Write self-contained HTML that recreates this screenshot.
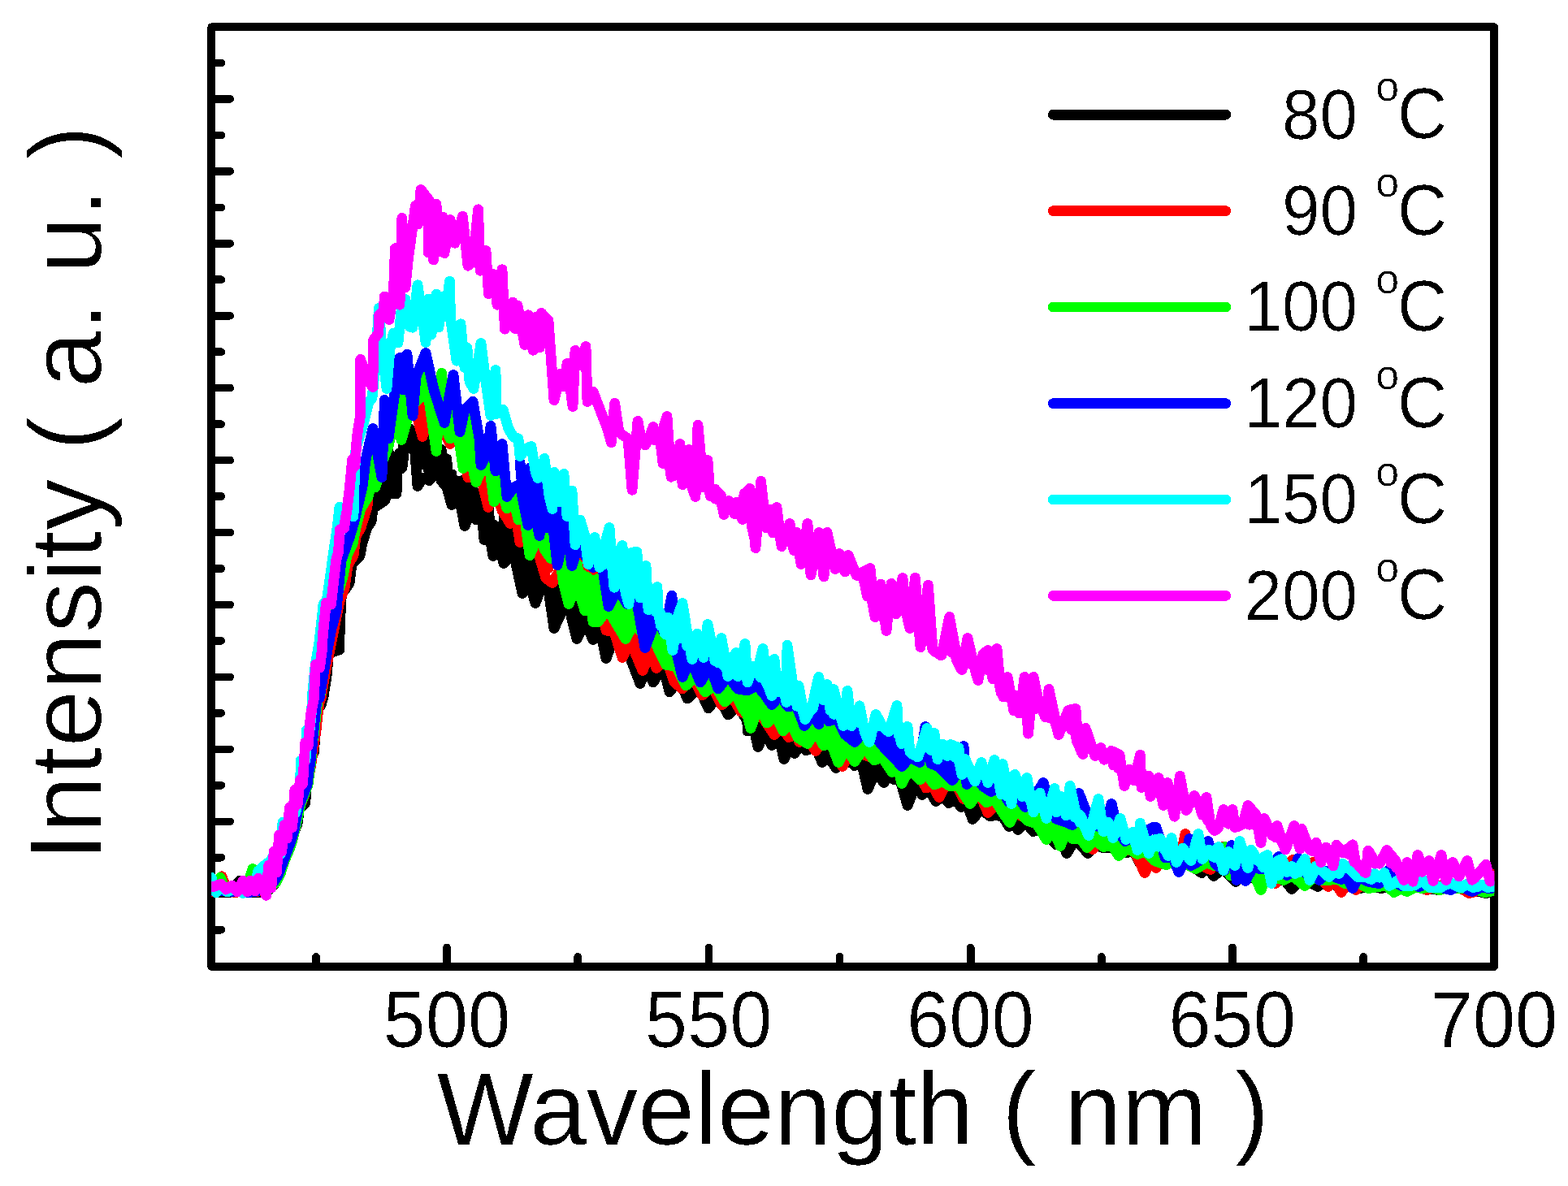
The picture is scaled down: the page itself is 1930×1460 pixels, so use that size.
<!DOCTYPE html>
<html lang="en"><head><meta charset="utf-8"><title>PL spectra</title>
<style>html,body{margin:0;padding:0;background:#fff;overflow:hidden}svg{display:block}</style>
</head><body>
<svg width="1930" height="1460" viewBox="0 0 1930 1460" shape-rendering="crispEdges">
<rect width="1930" height="1460" fill="#fff"/>
<g stroke="#000" stroke-width="9.6" stroke-linecap="round" fill="none">
<line x1="260.2" y1="77.4" x2="272.4" y2="77.4"/>
<line x1="260.2" y1="121.9" x2="283.2" y2="121.9"/>
<line x1="260.2" y1="166.3" x2="272.4" y2="166.3"/>
<line x1="260.2" y1="210.8" x2="283.2" y2="210.8"/>
<line x1="260.2" y1="255.3" x2="272.4" y2="255.3"/>
<line x1="260.2" y1="299.8" x2="283.2" y2="299.8"/>
<line x1="260.2" y1="344.2" x2="272.4" y2="344.2"/>
<line x1="260.2" y1="388.7" x2="283.2" y2="388.7"/>
<line x1="260.2" y1="433.2" x2="272.4" y2="433.2"/>
<line x1="260.2" y1="477.6" x2="283.2" y2="477.6"/>
<line x1="260.2" y1="522.1" x2="272.4" y2="522.1"/>
<line x1="260.2" y1="566.6" x2="283.2" y2="566.6"/>
<line x1="260.2" y1="611.0" x2="272.4" y2="611.0"/>
<line x1="260.2" y1="655.5" x2="283.2" y2="655.5"/>
<line x1="260.2" y1="700.0" x2="272.4" y2="700.0"/>
<line x1="260.2" y1="744.4" x2="283.2" y2="744.4"/>
<line x1="260.2" y1="788.9" x2="272.4" y2="788.9"/>
<line x1="260.2" y1="833.4" x2="283.2" y2="833.4"/>
<line x1="260.2" y1="877.9" x2="272.4" y2="877.9"/>
<line x1="260.2" y1="922.3" x2="283.2" y2="922.3"/>
<line x1="260.2" y1="966.8" x2="272.4" y2="966.8"/>
<line x1="260.2" y1="1011.3" x2="283.2" y2="1011.3"/>
<line x1="260.2" y1="1055.7" x2="272.4" y2="1055.7"/>
<line x1="260.2" y1="1100.2" x2="283.2" y2="1100.2"/>
<line x1="260.2" y1="1144.7" x2="272.4" y2="1144.7"/>
<line x1="389.0" y1="1190.0" x2="389.0" y2="1177.8"/>
<line x1="550.1" y1="1190.0" x2="550.1" y2="1166.4"/>
<line x1="711.2" y1="1190.0" x2="711.2" y2="1177.8"/>
<line x1="872.4" y1="1190.0" x2="872.4" y2="1166.4"/>
<line x1="1033.5" y1="1190.0" x2="1033.5" y2="1177.8"/>
<line x1="1194.7" y1="1190.0" x2="1194.7" y2="1166.4"/>
<line x1="1355.8" y1="1190.0" x2="1355.8" y2="1177.8"/>
<line x1="1516.9" y1="1190.0" x2="1516.9" y2="1166.4"/>
<line x1="1678.1" y1="1190.0" x2="1678.1" y2="1177.8"/>
</g>
<rect x="260.2" y="33.2" width="1579.0" height="1156.8" fill="none" stroke="#000" stroke-width="9.6" stroke-linejoin="round"/>
<clipPath id="plot"><rect x="260.2" y="33.2" width="1579.0" height="1156.8"/></clipPath>
<g clip-path="url(#plot)" fill="none" stroke-width="12.8" stroke-linejoin="round" stroke-linecap="round">
<polyline stroke="#000000" points="440.0,659.1 443.2,674.3 446.4,644.4 449.7,650.3 452.9,625.7 456.1,637.0 459.3,595.8 462.6,616.2 465.8,591.0 469.0,615.4 472.2,565.5 475.4,595.7 478.7,557.7 481.9,603.9 485.1,561.9 488.3,578.7 491.6,557.6 494.8,575.7 498.0,527.4 501.2,540.1 504.4,527.5 507.7,533.3 510.9,538.2 514.1,574.2 517.3,538.3 520.6,571.9 523.8,533.7 527.0,577.5 530.2,537.5 533.5,580.1 536.7,538.0 539.9,572.0 543.1,553.4 546.3,590.3 549.6,564.8 552.8,595.0 556.0,583.8 559.2,615.2 562.5,592.0 565.7,611.2 568.9,591.6 572.1,628.5 575.3,591.9 578.6,615.3 581.8,599.4 585.0,624.7 588.2,611.6 591.5,617.4 594.7,622.6 597.9,657.0 601.1,625.5 604.3,655.3 607.6,645.8 610.8,666.9 614.0,648.2 617.2,670.6 620.5,636.6 623.7,681.3 626.9,654.3 630.1,674.5 633.4,672.3 636.6,693.5 639.8,690.1 643.0,725.2 646.2,676.6 649.5,705.1 652.7,688.1 655.9,715.3 659.1,704.9 662.4,718.0 665.6,694.7 668.8,709.9 672.0,714.3 675.2,727.0 678.5,719.0 681.7,764.0 684.9,722.7 688.1,751.3 691.4,723.2 694.6,738.1 697.8,732.7 701.0,751.8 704.2,738.1 707.5,774.3 710.7,738.0 713.9,767.5 717.1,746.1 720.4,762.2 723.6,736.8 726.8,780.5 730.0,740.6 733.2,769.5 736.5,763.5 739.7,774.6 742.9,764.8 746.1,791.9 749.4,761.6 752.6,788.1 755.8,761.4 759.0,776.4 762.2,754.1 765.5,783.2 768.7,777.0 771.9,794.7 775.1,789.3 778.4,815.3 781.6,795.7 784.8,820.0 788.0,811.6 791.3,830.0 794.5,796.3 797.7,814.0 800.9,804.4 804.1,838.6 807.4,795.5 810.6,828.3 813.8,808.8 817.0,820.8 820.3,808.5 823.5,833.3 826.7,805.3 829.9,843.5 833.1,808.9 836.4,834.1 839.6,816.7 842.8,849.7 846.0,825.4 849.3,844.8 852.5,816.8 855.7,846.2 858.9,818.8 862.1,842.9 865.4,833.2 868.6,862.4 871.8,838.1 875.0,856.3 878.3,840.6 881.5,849.0 884.7,831.5 887.9,855.5 891.2,841.4 894.4,861.0 897.6,837.7 900.8,864.9 904.0,842.9 907.3,858.2 910.5,848.2 913.7,876.4 916.9,864.0 920.2,894.3 923.4,881.2 926.6,888.5 929.8,880.3 933.0,904.1 936.3,879.4 939.5,904.5 942.7,884.6 945.9,908.1 949.2,875.9 952.4,908.5 955.6,897.0 958.8,906.3 962.0,899.4 965.3,934.0 968.5,896.1 971.7,915.9 974.9,902.9 978.2,925.8 981.4,898.2 984.6,914.4 987.8,897.1 991.0,921.1 994.3,889.0 997.5,917.5 1000.7,904.3 1003.9,919.0 1007.2,904.3 1010.4,931.9 1013.6,912.4 1016.8,929.2 1020.1,914.3 1023.3,929.8 1026.5,915.7 1029.7,938.9 1032.9,908.2 1036.2,932.4 1039.4,917.0 1042.6,932.9 1045.8,914.3 1049.1,931.5 1052.3,915.9 1055.5,936.4 1058.7,936.1 1061.9,944.2 1065.2,937.7 1068.4,967.3 1071.6,936.2 1074.8,953.4 1078.1,937.7 1081.3,946.1 1084.5,936.4 1087.7,956.1 1090.9,935.6 1094.2,951.4 1097.4,930.5 1100.6,948.2 1103.8,945.3 1107.1,959.4 1110.3,957.8 1113.5,972.2 1116.7,970.2 1119.9,980.8 1123.2,962.2 1126.4,967.6 1129.6,951.9 1132.8,970.1 1136.1,946.4 1139.3,967.4 1142.5,958.9 1145.7,975.4 1149.0,963.7 1152.2,978.5 1155.4,960.8 1158.6,974.2 1161.8,957.6 1165.1,979.6 1168.3,967.0 1171.5,984.9 1174.7,968.0 1178.0,986.2 1181.2,964.3 1184.4,984.0 1187.6,979.9 1190.8,987.0 1194.1,980.7 1197.3,1001.3 1200.5,984.9 1203.7,996.3 1207.0,980.2 1210.2,996.4 1213.4,984.6 1216.6,997.0 1219.8,975.1 1223.1,992.8 1226.3,986.0 1229.5,995.9 1232.7,993.4 1236.0,1004.4 1239.2,991.9 1242.4,1015.0 1245.6,991.9 1248.8,1006.0 1252.1,996.8 1255.3,1008.6 1258.5,1000.3 1261.7,1006.8 1265.0,996.4 1268.2,1010.0 1271.4,1002.2 1274.6,1016.6 1277.8,1003.5 1281.1,1017.7 1284.3,1010.7 1287.5,1025.3 1290.7,1018.4 1294.0,1026.8 1297.2,1018.8 1300.4,1032.3 1303.6,1026.3 1306.9,1034.1 1310.1,1031.8 1313.3,1042.4 1316.5,1028.3 1319.7,1036.0 1323.0,1028.5 1326.2,1035.0 1329.4,1029.7 1332.6,1041.5 1335.9,1030.2 1339.1,1048.6 1342.3,1034.0 1345.5,1036.9 1348.7,1031.5 1352.0,1039.4 1355.2,1020.7 1358.4,1038.6 1361.6,1025.6 1364.9,1042.8 1368.1,1023.0 1371.3,1037.9 1374.5,1031.3 1377.7,1040.4 1381.0,1034.8 1384.2,1044.5 1387.4,1035.8 1390.6,1043.9 1393.9,1042.2 1397.1,1049.5 1400.3,1043.7 1403.5,1058.0 1406.8,1040.2 1410.0,1053.4 1413.2,1043.8 1416.4,1054.8 1419.6,1042.1 1422.9,1057.5 1426.1,1040.7 1429.3,1058.5 1432.5,1052.6 1435.8,1056.5 1439.0,1050.7 1442.2,1059.8 1445.4,1059.1 1448.6,1065.1 1451.9,1057.6 1455.1,1059.6 1458.3,1053.7 1461.5,1060.6 1464.8,1059.3 1468.0,1064.1 1471.2,1056.3 1474.4,1069.8 1477.6,1055.6 1480.9,1066.9 1484.1,1061.3 1487.3,1068.6 1490.5,1064.6 1493.8,1076.0 1497.0,1066.4 1500.2,1070.7 1503.4,1064.1 1506.6,1068.4 1509.9,1067.1 1513.1,1075.4 1516.3,1069.3 1519.5,1082.3 1522.8,1071.8 1526.0,1078.7 1529.2,1071.6 1532.4,1074.5 1535.7,1067.9 1538.9,1075.7 1542.1,1070.0 1545.3,1080.9 1548.5,1065.5 1551.8,1078.5 1555.0,1071.0 1558.2,1077.5 1561.4,1072.1 1564.7,1079.2 1567.9,1073.1 1571.1,1081.9 1574.3,1073.3 1577.5,1079.8 1580.8,1081.3 1584.0,1085.8 1587.2,1082.0 1590.4,1093.0 1593.7,1082.2 1596.9,1085.7 1600.1,1080.5 1603.3,1080.9 1606.5,1076.4 1609.8,1083.0 1613.0,1080.5 1616.2,1088.0 1619.4,1077.8 1622.7,1087.9 1625.9,1076.6 1629.1,1083.9 1632.3,1079.7 1635.5,1085.4 1638.8,1079.4 1642.0,1085.4 1645.2,1075.4 1648.4,1086.3 1651.7,1079.0 1654.9,1082.0 1658.1,1078.9 1661.3,1083.8 1664.5,1079.4 1667.8,1087.0 1671.0,1082.4 1674.2,1089.4 1677.4,1081.0 1680.7,1089.6 1683.9,1081.9 1687.1,1089.7 1690.3,1081.5 1693.6,1089.6 1696.8,1080.6 1700.0,1089.0 1703.2,1084.4 1706.4,1089.4 1709.7,1080.9 1712.9,1088.6 1716.1,1087.2 1719.3,1089.2 1722.6,1088.2 1725.8,1091.3 1729.0,1090.0 1732.2,1090.9 1735.4,1088.3 1738.7,1090.4 1741.9,1089.4 1745.1,1089.6 1748.3,1088.1 1751.6,1091.9 1754.8,1090.6 1758.0,1092.4 1761.2,1089.7 1764.4,1094.6 1767.7,1091.3 1770.9,1095.6 1774.1,1092.3 1777.3,1092.7 1780.6,1089.5 1783.8,1091.5 1787.0,1088.9 1790.2,1091.8 1793.5,1092.0 1796.7,1093.0 1799.9,1092.3 1803.1,1093.2 1806.3,1090.4 1809.6,1094.9 1812.8,1091.3 1816.0,1094.9 1819.2,1092.8 1822.5,1097.7 1825.7,1093.5 1828.9,1096.5 1832.1,1092.5 1835.3,1096.9 1838.6,1089.1"/>
<polyline stroke="#000000" points="260.0,1098.0 268.0,1097.0 276.0,1099.0 284.0,1098.0 295.0,1084.0 300.0,1098.0 310.0,1099.0 318.0,1098.6 330.0,1097.0 338.0,1088.0 343.0,1050.0 346.0,1028.0 352.0,1048.0 358.0,1040.0 362.0,1024.0 366.0,1014.6 368.4,996.5 375.8,988.3 377.5,965.3 380.8,939.0 386.5,925.8 389.8,876.4 395.0,868.0 398.0,858.0 402.4,830.0 404.4,804.0 417.6,800.0 418.6,764.0 420.4,732.0 430.0,718.0 433.0,694.0 443.0,684.0 445.6,670.0 451.6,650.0 457.0,642.0 459.0,626.0 474.0,616.0 476.0,608.0 488.0,608.0 489.2,580.0 495.0,576.0 498.0,550.0 509.0,533.4 514.0,598.6 521.0,588.0 528.0,591.6 533.0,586.0 537.0,566.0 543.0,591.6 550.0,600.0 556.0,621.6 564.0,606.0 572.0,647.6 580.0,630.0 586.0,640.0 592.0,621.4 596.0,664.6 601.0,650.0 607.0,684.6 614.0,668.0 620.0,693.6 632.0,680.0 643.0,730.6 650.0,712.0 659.0,742.6 670.0,712.0 674.0,720.0 682.0,773.6 694.0,748.0 702.0,754.0 710.0,786.6 720.0,766.0 730.0,787.6 738.0,772.0 746.0,810.6 758.0,780.0 772.0,800.0 788.0,841.6 796.0,820.0 804.0,840.0 816.0,820.0 824.0,852.0 836.0,836.0 846.0,860.0 860.0,846.0 872.0,872.0 884.0,856.0 896.0,880.0 908.0,868.0 920.0,888.0 920.0,900.0 926.0,888.0 933.0,919.6 942.0,900.0 950.0,917.6 958.0,904.0 965.0,934.6 972.0,920.0 978.0,927.6 986.0,916.0 992.0,923.6 1004.0,920.0 1012.0,938.6 1020.0,932.0 1029.0,945.6 1040.0,932.0 1052.0,942.6 1060.0,936.0 1068.0,971.6 1078.0,950.0 1088.0,963.6 1094.0,952.0 1100.0,959.6 1108.0,960.0 1117.0,991.6 1128.0,964.0 1135.0,978.6 1142.0,970.0 1152.0,986.6 1160.0,980.0 1168.0,988.6 1176.0,984.0 1183.0,993.6 1190.0,988.0 1197.0,1008.6 1208.0,996.0 1218.0,1004.6 1228.0,1003.6 1235.0,1006.0 1242.0,1017.6 1248.0,1012.0 1253.0,1021.6 1262.0,1012.0 1272.0,1023.6 1282.0,1020.0 1292.0,1030.0 1300.0,1040.0 1306.0,1034.0 1313.0,1050.6 1322.0,1036.0 1330.0,1040.0 1339.0,1050.6 1348.0,1040.0 1358.0,1044.0 1366.0,1043.6 1376.0,1040.0 1386.0,1049.6 1396.0,1048.0 1402.4,1061.6 1412.0,1052.0 1424.0,1060.0 1436.0,1058.0 1448.0,1066.0 1460.0,1062.0 1470.0,1068.0 1479.0,1074.6 1486.0,1068.0 1494.0,1078.6 1504.0,1070.0 1512.0,1076.0 1521.0,1085.6 1532.0,1076.0 1544.0,1082.0 1556.0,1078.0 1568.0,1086.0 1580.0,1082.0 1590.0,1094.6 1600.0,1084.0 1612.0,1086.0 1622.0,1091.6 1632.0,1084.0 1644.0,1090.0 1656.0,1086.0 1666.0,1090.0 1675.0,1093.6 1684.0,1090.0 1700.0,1093.6 1714.0,1090.0 1728.0,1092.0 1744.0,1090.0 1758.0,1094.0 1771.0,1095.6 1784.0,1092.0 1800.0,1094.0 1814.0,1096.0 1829.0,1099.6 1840.0,1096.0"/>
<polyline stroke="#ff0000" points="440.0,647.0 443.2,643.0 446.4,613.6 449.7,631.6 452.9,587.9 456.1,587.7 459.3,569.7 462.6,575.8 465.8,569.9 469.0,562.2 472.2,554.9 475.4,548.3 478.7,536.3 481.9,536.2 485.1,520.4 488.3,522.4 491.6,487.1 494.8,499.3 498.0,491.1 501.2,505.7 504.4,505.5 507.7,502.6 510.9,499.9 514.1,510.5 517.3,488.5 520.6,529.6 523.8,488.1 527.0,509.1 530.2,488.3 533.5,510.3 536.7,501.7 539.9,521.3 543.1,519.8 546.3,530.9 549.6,524.8 552.8,539.5 556.0,495.3 559.2,527.6 562.5,521.0 565.7,531.8 568.9,526.8 572.1,555.5 575.3,516.1 578.6,580.3 581.8,530.5 585.0,565.1 588.2,572.7 591.5,586.6 594.7,580.7 597.9,599.7 601.1,570.4 604.3,604.6 607.6,578.2 610.8,602.7 614.0,587.2 617.2,615.9 620.5,616.0 623.7,632.0 626.9,610.5 630.1,639.4 633.4,606.9 636.6,636.0 639.8,622.8 643.0,660.7 646.2,624.1 649.5,641.9 652.7,622.0 655.9,649.2 659.1,649.5 662.4,670.1 665.6,662.0 668.8,689.6 672.0,663.9 675.2,699.5 678.5,661.5 681.7,692.5 684.9,668.4 688.1,699.5 691.4,666.2 694.6,689.2 697.8,668.4 701.0,687.4 704.2,674.5 707.5,699.8 710.7,679.4 713.9,701.6 717.1,685.8 720.4,710.4 723.6,694.7 726.8,714.0 730.0,705.0 733.2,731.2 736.5,722.9 739.7,747.6 742.9,732.9 746.1,762.3 749.4,745.5 752.6,774.8 755.8,759.3 759.0,786.8 762.2,755.1 765.5,797.5 768.7,768.5 771.9,787.2 775.1,759.4 778.4,791.9 781.6,778.8 784.8,800.2 788.0,775.4 791.3,824.3 794.5,779.7 797.7,796.6 800.9,775.3 804.1,800.4 807.4,787.6 810.6,803.7 813.8,781.1 817.0,800.2 820.3,792.2 823.5,811.6 826.7,800.1 829.9,835.5 833.1,814.7 836.4,842.0 839.6,799.5 842.8,833.0 846.0,813.7 849.3,824.5 852.5,810.1 855.7,833.2 858.9,812.8 862.1,847.8 865.4,820.2 868.6,841.7 871.8,810.1 875.0,834.9 878.3,822.4 881.5,841.8 884.7,831.2 887.9,852.0 891.2,840.2 894.4,857.1 897.6,829.9 900.8,851.4 904.0,839.0 907.3,854.3 910.5,841.5 913.7,860.2 916.9,849.3 920.2,863.4 923.4,845.7 926.6,874.5 929.8,849.7 933.0,865.9 936.3,855.1 939.5,874.0 942.7,863.1 945.9,892.1 949.2,872.5 952.4,886.4 955.6,866.8 958.8,893.5 962.0,866.6 965.3,897.4 968.5,878.5 971.7,899.6 974.9,876.0 978.2,902.7 981.4,878.3 984.6,899.9 987.8,886.2 991.0,901.2 994.3,891.0 997.5,907.6 1000.7,892.8 1003.9,921.5 1007.2,897.1 1010.4,903.8 1013.6,886.4 1016.8,905.6 1020.1,884.7 1023.3,901.5 1026.5,901.5 1029.7,914.0 1032.9,903.1 1036.2,926.3 1039.4,908.0 1042.6,924.3 1045.8,908.7 1049.1,924.0 1052.3,894.0 1055.5,919.8 1058.7,904.5 1061.9,924.6 1065.2,908.0 1068.4,928.2 1071.6,905.9 1074.8,930.4 1078.1,904.9 1081.3,928.2 1084.5,909.4 1087.7,921.7 1090.9,899.7 1094.2,925.0 1097.4,906.7 1100.6,935.7 1103.8,917.7 1107.1,932.9 1110.3,919.3 1113.5,943.4 1116.7,928.3 1119.9,949.1 1123.2,936.4 1126.4,946.2 1129.6,938.1 1132.8,955.0 1136.1,940.9 1139.3,959.0 1142.5,941.7 1145.7,961.2 1149.0,945.3 1152.2,974.2 1155.4,949.8 1158.6,964.6 1161.8,949.5 1165.1,957.7 1168.3,943.7 1171.5,957.3 1174.7,945.6 1178.0,963.9 1181.2,952.6 1184.4,972.1 1187.6,960.3 1190.8,972.0 1194.1,961.2 1197.3,977.1 1200.5,966.4 1203.7,973.5 1207.0,968.3 1210.2,987.1 1213.4,973.3 1216.6,989.8 1219.8,968.7 1223.1,985.2 1226.3,971.2 1229.5,986.5 1232.7,972.4 1236.0,1001.6 1239.2,988.7 1242.4,996.8 1245.6,986.7 1248.8,999.1 1252.1,980.4 1255.3,993.6 1258.5,983.2 1261.7,1000.4 1265.0,992.4 1268.2,1007.7 1271.4,991.7 1274.6,1006.0 1277.8,985.0 1281.1,1006.5 1284.3,998.0 1287.5,1012.6 1290.7,998.6 1294.0,1014.8 1297.2,995.2 1300.4,1014.2 1303.6,996.5 1306.9,1016.3 1310.1,1008.3 1313.3,1017.5 1316.5,1008.2 1319.7,1027.6 1323.0,1010.9 1326.2,1020.6 1329.4,1017.6 1332.6,1028.6 1335.9,1021.8 1339.1,1033.1 1342.3,1026.0 1345.5,1044.2 1348.7,1021.9 1352.0,1032.3 1355.2,1021.8 1358.4,1028.5 1361.6,1021.7 1364.9,1038.2 1368.1,1018.6 1371.3,1036.6 1374.5,1027.3 1377.7,1036.6 1381.0,1032.3 1384.2,1039.6 1387.4,1034.1 1390.6,1044.6 1393.9,1041.1 1397.1,1049.7 1400.3,1054.2 1403.5,1061.3 1406.8,1055.3 1410.0,1070.9 1413.2,1053.8 1416.4,1060.4 1419.6,1053.8 1422.9,1061.9 1426.1,1050.1 1429.3,1055.3 1432.5,1051.5 1435.8,1055.3 1439.0,1052.3 1442.2,1057.2 1445.4,1058.0 1448.6,1055.9 1451.9,1053.0 1455.1,1046.3 1458.3,1029.0 1461.5,1038.2 1464.8,1053.2 1468.0,1060.5 1471.2,1055.0 1474.4,1056.8 1477.6,1056.2 1480.9,1065.5 1484.1,1051.0 1487.3,1068.9 1490.5,1055.5 1493.8,1059.8 1497.0,1051.5 1500.2,1051.5 1503.4,1044.7 1506.6,1047.6 1509.9,1057.9 1513.1,1064.7 1516.3,1063.4 1519.5,1066.6 1522.8,1063.0 1526.0,1065.0 1529.2,1059.9 1532.4,1064.0 1535.7,1066.1 1538.9,1069.4 1542.1,1056.1 1545.3,1068.4 1548.5,1058.7 1551.8,1070.5 1555.0,1063.4 1558.2,1072.6 1561.4,1071.7 1564.7,1077.9 1567.9,1071.9 1571.1,1084.1 1574.3,1069.5 1577.5,1075.3 1580.8,1070.2 1584.0,1066.7 1587.2,1062.2 1590.4,1058.9 1593.7,1062.7 1596.9,1069.8 1600.1,1070.5 1603.3,1073.1 1606.5,1072.7 1609.8,1072.0 1613.0,1065.9 1616.2,1061.6 1619.4,1068.8 1622.7,1076.7 1625.9,1076.9 1629.1,1083.0 1632.3,1077.9 1635.5,1088.6 1638.8,1081.4 1642.0,1083.8 1645.2,1085.2 1648.4,1092.9 1651.7,1088.3 1654.9,1089.9 1658.1,1083.7 1661.3,1086.7 1664.5,1079.6 1667.8,1093.2 1671.0,1081.5 1674.2,1090.3 1677.4,1081.8 1680.7,1084.0 1683.9,1081.6 1687.1,1085.6 1690.3,1081.8 1693.6,1088.8 1696.8,1081.9 1700.0,1087.6 1703.2,1082.9 1706.4,1087.2 1709.7,1080.4 1712.9,1087.6 1716.1,1086.5 1719.3,1089.8 1722.6,1088.2 1725.8,1090.9 1729.0,1089.7 1732.2,1090.0 1735.4,1088.2 1738.7,1089.8 1741.9,1089.6 1745.1,1091.3 1748.3,1086.8 1751.6,1093.6 1754.8,1091.0 1758.0,1093.8 1761.2,1090.6 1764.4,1091.4 1767.7,1089.2 1770.9,1090.4 1774.1,1090.7 1777.3,1092.2 1780.6,1090.5 1783.8,1091.6 1787.0,1089.2 1790.2,1091.9 1793.5,1091.5 1796.7,1092.1 1799.9,1092.0 1803.1,1094.6 1806.3,1091.9 1809.6,1096.8 1812.8,1093.8 1816.0,1096.3 1819.2,1092.1 1822.5,1095.4 1825.7,1090.8 1828.9,1093.5 1832.1,1091.1 1835.3,1086.2 1838.6,1078.3"/>
<polyline stroke="#ff0000" points="260.0,1097.0 266.0,1098.0 273.0,1078.8 280.0,1097.0 290.0,1098.6 298.0,1097.0 310.0,1098.0 320.0,1097.0 332.0,1094.0 340.0,1078.0 346.0,1068.0 352.0,1052.0 358.0,1040.0 362.0,1026.0 366.6,1002.0 370.0,990.0 375.0,978.0 380.0,957.0 383.0,940.0 386.0,920.0 389.0,900.0 391.0,880.0 393.6,862.0 395.0,860.0 400.0,830.0 406.0,800.0 412.0,770.0 418.0,740.0 424.0,724.0 428.0,696.0 435.0,684.0 438.0,660.0 444.0,650.0 452.0,624.0 454.0,600.0 462.0,580.0 470.0,560.0 480.0,540.0 490.0,520.0 502.0,510.0 510.0,500.0 520.0,537.6 530.0,510.0 542.0,524.0 554.0,546.6 562.0,520.0 570.0,550.0 576.0,588.0 584.0,570.0 594.0,596.0 601.0,624.6 608.0,600.0 618.0,628.4 628.0,644.6 634.0,630.0 640.0,667.6 650.0,650.0 658.0,666.0 666.0,692.0 672.0,712.0 680.0,717.6 690.0,700.0 698.0,712.0 710.0,700.0 716.0,720.0 724.0,712.0 734.0,736.0 738.0,744.0 746.0,776.0 756.0,778.0 766.0,809.6 776.0,790.0 791.0,825.6 800.0,804.0 808.0,822.6 820.0,810.0 830.0,840.0 840.0,848.0 852.0,832.0 864.0,856.0 876.0,844.0 888.0,868.0 900.0,856.0 912.0,876.0 920.0,880.0 930.0,872.0 942.0,888.0 953.0,904.6 962.0,896.0 971.0,907.6 980.0,904.0 984.0,913.6 994.0,908.0 1004.0,924.6 1014.0,908.0 1026.0,904.4 1032.0,930.0 1037.0,943.6 1048.0,924.0 1060.0,928.0 1071.0,931.6 1080.0,930.0 1092.0,938.0 1104.0,936.0 1116.0,950.0 1128.0,948.0 1140.0,970.0 1148.0,968.0 1156.0,981.6 1166.0,962.0 1178.0,968.0 1186.0,983.6 1196.0,978.0 1206.0,978.0 1216.0,1000.6 1226.0,990.0 1238.0,1004.0 1250.0,1000.0 1260.0,1006.0 1269.0,1011.6 1280.0,1008.0 1292.0,1020.0 1300.0,1024.0 1310.0,1020.0 1320.0,1032.0 1330.0,1028.0 1340.0,1040.0 1345.0,1045.6 1356.0,1031.4 1366.0,1040.0 1376.0,1036.0 1387.4,1045.6 1396.0,1048.0 1404.0,1064.0 1409.0,1074.6 1416.0,1060.0 1423.0,1068.6 1432.0,1056.0 1444.0,1060.0 1454.0,1052.0 1459.0,1026.4 1466.0,1060.0 1476.0,1064.0 1490.0,1070.6 1498.0,1056.0 1505.0,1042.4 1512.0,1066.0 1522.0,1068.0 1532.0,1064.0 1544.0,1074.0 1556.0,1070.0 1570.0,1087.6 1580.0,1072.0 1591.0,1058.4 1600.0,1076.0 1610.0,1072.0 1616.0,1061.4 1624.0,1080.0 1635.0,1091.6 1642.0,1084.0 1651.0,1098.6 1660.0,1086.0 1669.0,1095.6 1680.0,1086.0 1694.0,1090.0 1708.0,1088.0 1724.0,1092.0 1740.0,1090.0 1757.0,1095.6 1768.0,1090.0 1784.0,1094.0 1796.0,1092.0 1808.0,1099.6 1822.0,1096.0 1832.0,1094.0 1840.0,1076.0"/>
<polyline stroke="#00ff00" points="440.0,641.2 443.2,628.8 446.4,616.3 449.7,612.3 452.9,584.5 456.1,597.6 459.3,565.9 462.6,588.1 465.8,585.1 469.0,573.6 472.2,563.6 475.4,556.2 478.7,536.9 481.9,531.2 485.1,515.5 488.3,503.0 491.6,480.8 494.8,520.4 498.0,488.6 501.2,502.9 504.4,504.6 507.7,498.4 510.9,494.7 514.1,492.2 517.3,470.8 520.6,479.1 523.8,458.8 527.0,479.6 530.2,480.3 533.5,530.0 536.7,505.9 539.9,512.3 543.1,465.8 546.3,489.6 549.6,517.0 552.8,529.6 556.0,496.7 559.2,520.9 562.5,522.2 565.7,542.5 568.9,531.6 572.1,559.8 575.3,515.3 578.6,545.5 581.8,515.8 585.0,586.6 588.2,576.4 591.5,579.3 594.7,570.5 597.9,571.2 601.1,561.4 604.3,581.8 607.6,575.9 610.8,601.1 614.0,581.0 617.2,596.5 620.5,611.1 623.7,621.3 626.9,611.8 630.1,615.6 633.4,606.8 636.6,631.2 639.8,617.0 643.0,622.4 646.2,619.8 649.5,652.2 652.7,635.0 655.9,652.6 659.1,631.5 662.4,641.5 665.6,625.8 668.8,661.5 672.0,627.2 675.2,680.9 678.5,638.1 681.7,663.7 684.9,657.8 688.1,681.0 691.4,679.7 694.6,706.4 697.8,691.9 701.0,734.3 704.2,687.6 707.5,714.7 710.7,695.2 713.9,719.7 717.1,707.7 720.4,749.6 723.6,710.5 726.8,715.8 730.0,713.9 733.2,760.8 736.5,712.1 739.7,740.5 742.9,708.1 746.1,746.7 749.4,717.5 752.6,746.3 755.8,730.7 759.0,764.1 762.2,743.5 765.5,775.4 768.7,746.2 771.9,779.9 775.1,753.5 778.4,769.3 781.6,736.2 784.8,764.3 788.0,734.5 791.3,776.1 794.5,756.4 797.7,779.6 800.9,750.1 804.1,773.4 807.4,758.1 810.6,793.0 813.8,783.4 817.0,800.0 820.3,780.5 823.5,818.1 826.7,782.8 829.9,819.1 833.1,801.3 836.4,821.8 839.6,806.8 842.8,834.7 846.0,800.4 849.3,838.0 852.5,812.6 855.7,831.5 858.9,811.0 862.1,830.2 865.4,806.9 868.6,832.8 871.8,814.1 875.0,844.0 878.3,814.7 881.5,833.5 884.7,816.2 887.9,853.4 891.2,837.3 894.4,859.9 897.6,840.5 900.8,852.5 904.0,838.3 907.3,845.7 910.5,829.5 913.7,869.8 916.9,851.1 920.2,870.8 923.4,847.5 926.6,877.9 929.8,851.6 933.0,866.9 936.3,844.7 939.5,865.6 942.7,847.8 945.9,877.7 949.2,854.9 952.4,870.6 955.6,856.0 958.8,875.9 962.0,867.9 965.3,891.2 968.5,863.4 971.7,884.7 974.9,864.9 978.2,886.2 981.4,867.7 984.6,899.7 987.8,887.1 991.0,905.0 994.3,886.2 997.5,908.1 1000.7,873.5 1003.9,893.4 1007.2,875.5 1010.4,899.7 1013.6,884.3 1016.8,903.6 1020.1,886.4 1023.3,908.2 1026.5,905.5 1029.7,922.2 1032.9,894.8 1036.2,930.4 1039.4,900.3 1042.6,920.6 1045.8,897.7 1049.1,929.5 1052.3,893.9 1055.5,920.4 1058.7,903.6 1061.9,919.2 1065.2,908.3 1068.4,920.4 1071.6,914.2 1074.8,924.7 1078.1,905.2 1081.3,921.2 1084.5,902.9 1087.7,933.3 1090.9,912.1 1094.2,941.8 1097.4,912.1 1100.6,943.4 1103.8,929.4 1107.1,948.3 1110.3,927.2 1113.5,953.4 1116.7,935.3 1119.9,944.6 1123.2,932.6 1126.4,947.7 1129.6,931.4 1132.8,956.5 1136.1,926.0 1139.3,943.4 1142.5,925.3 1145.7,948.2 1149.0,931.2 1152.2,958.4 1155.4,931.7 1158.6,955.4 1161.8,939.5 1165.1,951.6 1168.3,930.7 1171.5,960.5 1174.7,946.5 1178.0,967.1 1181.2,952.2 1184.4,966.3 1187.6,961.5 1190.8,984.6 1194.1,968.2 1197.3,980.2 1200.5,962.4 1203.7,973.7 1207.0,960.7 1210.2,983.4 1213.4,966.0 1216.6,981.7 1219.8,965.0 1223.1,980.0 1226.3,971.0 1229.5,986.7 1232.7,980.7 1236.0,1001.9 1239.2,983.9 1242.4,1004.2 1245.6,986.2 1248.8,1000.8 1252.1,980.8 1255.3,998.2 1258.5,987.0 1261.7,1005.9 1265.0,991.7 1268.2,1004.7 1271.4,993.1 1274.6,1012.2 1277.8,1002.7 1281.1,1019.0 1284.3,1010.9 1287.5,1032.0 1290.7,1006.5 1294.0,1017.7 1297.2,1009.9 1300.4,1025.0 1303.6,1015.5 1306.9,1029.5 1310.1,1016.9 1313.3,1024.8 1316.5,1012.0 1319.7,1030.3 1323.0,1008.5 1326.2,1029.2 1329.4,1017.2 1332.6,1029.8 1335.9,1015.4 1339.1,1040.1 1342.3,1023.0 1345.5,1028.3 1348.7,1019.7 1352.0,1028.6 1355.2,1022.3 1358.4,1035.9 1361.6,1027.1 1364.9,1036.4 1368.1,1029.7 1371.3,1040.3 1374.5,1029.0 1377.7,1044.9 1381.0,1029.3 1384.2,1041.4 1387.4,1034.0 1390.6,1044.2 1393.9,1036.3 1397.1,1044.0 1400.3,1038.7 1403.5,1043.2 1406.8,1034.0 1410.0,1043.5 1413.2,1036.1 1416.4,1054.1 1419.6,1043.3 1422.9,1052.8 1426.1,1041.6 1429.3,1060.9 1432.5,1051.6 1435.8,1061.0 1439.0,1051.9 1442.2,1058.6 1445.4,1058.1 1448.6,1058.0 1451.9,1059.2 1455.1,1058.6 1458.3,1055.1 1461.5,1063.6 1464.8,1057.9 1468.0,1067.2 1471.2,1059.8 1474.4,1065.2 1477.6,1056.3 1480.9,1061.4 1484.1,1053.0 1487.3,1058.6 1490.5,1052.7 1493.8,1062.7 1497.0,1052.3 1500.2,1057.6 1503.4,1050.7 1506.6,1044.7 1509.9,1051.9 1513.1,1066.6 1516.3,1064.7 1519.5,1071.5 1522.8,1064.8 1526.0,1065.3 1529.2,1062.3 1532.4,1071.4 1535.7,1069.9 1538.9,1073.8 1542.1,1076.8 1545.3,1079.7 1548.5,1080.5 1551.8,1093.4 1555.0,1082.8 1558.2,1080.3 1561.4,1075.8 1564.7,1075.5 1567.9,1068.5 1571.1,1078.1 1574.3,1068.2 1577.5,1080.8 1580.8,1075.1 1584.0,1081.1 1587.2,1073.2 1590.4,1078.1 1593.7,1075.0 1596.9,1080.6 1600.1,1077.1 1603.3,1084.4 1606.5,1079.8 1609.8,1086.0 1613.0,1077.6 1616.2,1080.0 1619.4,1076.8 1622.7,1080.1 1625.9,1074.1 1629.1,1082.7 1632.3,1079.8 1635.5,1081.4 1638.8,1078.0 1642.0,1081.9 1645.2,1076.4 1648.4,1080.3 1651.7,1074.6 1654.9,1081.0 1658.1,1073.0 1661.3,1084.6 1664.5,1076.1 1667.8,1084.3 1671.0,1078.6 1674.2,1085.1 1677.4,1080.9 1680.7,1090.6 1683.9,1083.9 1687.1,1091.6 1690.3,1082.7 1693.6,1088.8 1696.8,1081.1 1700.0,1086.2 1703.2,1082.8 1706.4,1088.5 1709.7,1085.9 1712.9,1092.0 1716.1,1087.6 1719.3,1096.6 1722.6,1089.7 1725.8,1093.5 1729.0,1091.5 1732.2,1096.4 1735.4,1089.8 1738.7,1093.0 1741.9,1089.7 1745.1,1090.9 1748.3,1087.9 1751.6,1092.1 1754.8,1089.5 1758.0,1091.3 1761.2,1090.2 1764.4,1092.3 1767.7,1091.1 1770.9,1094.2 1774.1,1091.2 1777.3,1092.7 1780.6,1090.6 1783.8,1091.2 1787.0,1088.5 1790.2,1092.3 1793.5,1091.5 1796.7,1093.1 1799.9,1092.5 1803.1,1094.0 1806.3,1090.2 1809.6,1093.8 1812.8,1091.8 1816.0,1093.5 1819.2,1091.9 1822.5,1096.3 1825.7,1092.5 1828.9,1097.6 1832.1,1093.6 1835.3,1095.5 1838.6,1092.0"/>
<polyline stroke="#00ff00" points="260.0,1096.0 271.0,1080.0 278.0,1097.0 290.0,1098.0 302.0,1097.0 311.0,1069.4 318.0,1090.0 330.0,1095.0 340.0,1086.0 345.0,1076.0 350.0,1060.0 356.0,1046.0 360.0,1034.0 364.0,1018.0 367.0,1004.0 370.0,990.0 374.0,980.0 379.0,966.0 381.0,950.0 383.0,936.0 384.0,918.0 387.0,900.0 389.0,880.0 391.0,862.0 394.4,854.0 399.0,820.0 404.0,790.0 410.0,764.0 416.0,730.0 422.0,710.0 427.0,684.0 434.0,670.0 438.0,650.0 444.0,626.0 453.0,612.0 456.0,600.0 458.0,590.4 462.0,600.0 470.0,570.0 478.0,550.0 488.0,502.4 494.0,541.6 506.0,500.0 517.0,490.0 526.0,477.4 532.0,520.0 537.0,555.6 543.6,459.4 550.0,530.0 554.0,540.0 562.0,520.0 570.0,576.6 578.0,560.0 586.0,593.6 594.0,576.0 602.0,570.0 608.0,617.6 616.0,600.0 624.0,626.0 632.0,616.0 638.0,640.0 644.0,624.0 652.0,683.6 662.0,660.0 670.0,676.0 678.0,687.6 686.0,670.0 694.0,720.0 700.0,743.6 710.0,720.0 720.0,752.0 727.0,722.4 730.0,765.6 736.0,765.6 748.0,750.0 760.0,770.0 770.0,786.6 780.0,768.0 792.0,780.0 806.0,790.0 820.0,818.6 832.0,820.0 844.0,844.0 856.0,832.0 868.0,852.0 880.0,844.0 892.0,864.0 904.0,852.0 914.0,872.0 920.0,880.0 924.0,896.6 935.0,866.4 944.0,890.0 954.0,880.0 964.0,900.0 972.0,888.0 982.0,908.0 994.0,915.6 1004.0,900.0 1014.0,918.0 1022.0,912.0 1032.0,938.6 1042.0,920.0 1052.0,937.6 1064.0,920.0 1076.0,936.0 1086.0,932.0 1098.0,950.6 1104.0,940.0 1110.0,964.6 1120.0,946.0 1132.0,960.0 1140.0,952.0 1150.0,966.0 1160.0,962.0 1170.0,968.0 1180.0,968.0 1194.0,989.6 1204.0,976.0 1214.0,988.0 1224.0,984.0 1234.0,1000.0 1243.0,1012.6 1252.0,996.0 1264.0,1010.0 1276.0,1014.0 1288.0,1033.6 1296.0,1020.0 1300.0,1030.0 1305.0,1041.6 1312.0,1026.0 1320.0,1032.6 1330.0,1032.0 1338.0,1043.6 1348.0,1034.0 1358.0,1042.6 1368.0,1040.0 1377.0,1053.6 1388.0,1044.0 1400.0,1051.6 1410.0,1048.0 1422.0,1060.0 1436.0,1064.6 1448.0,1058.0 1460.0,1064.0 1472.0,1069.6 1485.0,1062.0 1496.0,1066.0 1508.0,1042.4 1514.4,1077.6 1524.0,1068.0 1536.0,1076.0 1544.0,1078.0 1552.0,1095.6 1560.0,1076.0 1570.0,1080.0 1580.0,1083.6 1590.0,1078.0 1598.0,1084.0 1606.0,1090.6 1616.0,1080.0 1626.0,1084.0 1635.0,1083.6 1646.0,1082.0 1655.0,1087.6 1666.0,1084.0 1674.0,1088.0 1684.0,1093.6 1697.0,1091.6 1706.0,1090.0 1716.0,1098.6 1724.0,1094.0 1732.0,1097.6 1742.0,1092.0 1750.0,1093.6 1760.0,1092.0 1772.0,1095.6 1784.0,1092.0 1800.0,1094.0 1814.0,1094.0 1828.0,1098.6 1840.0,1096.0"/>
<polyline stroke="#0000ff" points="640.0,569.1 643.2,603.8 646.4,587.7 649.7,619.4 652.9,575.6 656.1,607.9 659.3,588.1 662.6,626.5 665.8,590.4 669.0,617.7 672.2,622.3 675.4,644.9 678.7,623.6 681.9,650.6 685.1,634.1 688.3,666.8 691.6,619.5 694.8,656.2 698.0,639.7 701.2,660.0 704.5,668.1 707.7,677.1 710.9,668.3 714.1,668.4 717.3,672.8 720.6,684.8 723.8,688.5 727.0,693.0 730.2,687.0 733.5,694.9 736.7,690.6 739.9,687.8 743.1,694.2 746.3,709.9 749.6,707.5 752.8,737.2 756.0,723.9 759.2,720.9 762.5,711.2 765.7,732.3 768.9,737.8 772.1,742.7 775.3,738.4 778.6,734.5 781.8,717.7 785.0,744.5 788.2,736.0 791.5,772.2 794.7,762.7 797.9,782.2 801.1,750.3 804.3,767.8 807.6,755.1 810.8,762.3 814.0,771.1 817.2,776.6 820.5,766.3 823.7,750.5 826.9,733.2 830.1,774.9 833.4,796.5 836.6,806.9 839.8,777.2 843.0,811.5 846.2,803.7 849.5,811.0 852.7,809.4 855.9,819.3 859.1,804.0 862.4,826.6 865.6,813.8 868.8,820.1 872.0,794.8 875.2,821.4 878.5,818.2 881.7,836.9 884.9,813.8 888.1,837.7 891.4,828.9 894.6,831.8 897.8,830.9 901.0,837.2 904.2,833.6 907.5,840.1 910.7,835.2 913.9,847.2 917.1,837.3 920.4,849.6 923.6,835.9 926.8,840.8 930.0,829.0 933.2,844.3 936.5,829.4 939.7,850.2 942.9,849.1 946.1,859.6 949.4,855.4 952.6,861.5 955.8,849.8 959.0,857.0 962.2,855.7 965.5,862.9 968.7,861.6 971.9,868.7 975.1,843.9 978.4,862.8 981.6,860.7 984.8,880.1 988.0,882.8 991.3,891.6 994.5,883.6 997.7,882.0 1000.9,874.8 1004.1,884.6 1007.4,855.5 1010.6,874.8 1013.8,859.7 1017.0,877.2 1020.3,873.7 1023.5,882.6 1026.7,869.9 1029.9,883.9 1033.1,889.4 1036.4,894.5 1039.6,894.0 1042.8,902.3 1046.0,894.6 1049.3,905.5 1052.5,895.7 1055.7,908.5 1058.9,893.8 1062.1,902.1 1065.4,900.2 1068.6,902.5 1071.8,903.8 1075.0,906.1 1078.3,899.7 1081.5,910.1 1084.7,900.8 1087.9,915.0 1091.2,901.0 1094.4,922.9 1097.6,908.2 1100.8,918.3 1104.0,907.7 1107.3,933.4 1110.5,906.5 1113.7,925.9 1116.9,925.9 1120.2,930.1 1123.4,929.3 1126.6,934.2 1129.8,931.9 1133.0,931.7 1136.3,910.8 1139.5,897.2 1142.7,917.9 1145.9,937.0 1149.2,930.7 1152.4,941.3 1155.6,932.1 1158.8,944.3 1162.0,932.1 1165.3,949.8 1168.5,937.3 1171.7,945.8 1174.9,931.0 1178.2,947.1 1181.4,941.7 1184.6,925.4 1187.8,939.2 1191.0,963.7 1194.3,958.5 1197.5,958.1 1200.7,956.0 1203.9,960.7 1207.2,956.1 1210.4,967.5 1213.6,962.3 1216.8,968.8 1220.1,963.1 1223.3,966.1 1226.5,958.7 1229.7,967.2 1232.9,962.4 1236.2,975.3 1239.4,982.3 1242.6,986.9 1245.8,984.0 1249.1,982.0 1252.3,972.4 1255.5,983.1 1258.7,977.1 1261.9,989.3 1265.2,984.9 1268.4,987.3 1271.6,983.7 1274.8,978.8 1278.1,972.7 1281.3,968.0 1284.5,964.3 1287.7,975.6 1290.9,985.6 1294.2,994.5 1297.4,995.1 1300.6,1005.6 1303.8,996.7 1307.1,1007.1 1310.3,1004.9 1313.5,1010.1 1316.7,997.7 1319.9,1014.2 1323.2,999.2 1326.4,983.9 1329.6,979.9 1332.8,989.0 1336.1,996.7 1339.3,1003.2 1342.5,1007.4 1345.7,1012.4 1349.0,1010.4 1352.2,1014.6 1355.4,1017.7 1358.6,1019.3 1361.8,1012.2 1365.1,1000.5 1368.3,989.8 1371.5,1004.4 1374.7,1017.9 1378.0,1024.3 1381.2,1029.9 1384.4,1034.3 1387.6,1032.3 1390.8,1032.3 1394.1,1030.1 1397.3,1029.9 1400.5,1029.9 1403.7,1031.2 1407.0,1031.0 1410.2,1028.1 1413.4,1022.4 1416.6,1019.6 1419.8,1018.2 1423.1,1018.5 1426.3,1028.7 1429.5,1040.4 1432.7,1050.2 1436.0,1055.6 1439.2,1051.5 1442.4,1054.9 1445.6,1059.2 1448.8,1066.4 1452.1,1060.6 1455.3,1060.5 1458.5,1053.2 1461.7,1042.7 1465.0,1047.6 1468.2,1062.1 1471.4,1056.3 1474.6,1059.6 1477.8,1055.1 1481.1,1048.5 1484.3,1040.6 1487.5,1036.9 1490.7,1046.4 1494.0,1057.4 1497.2,1054.2 1500.4,1066.5 1503.6,1068.6 1506.9,1071.5 1510.1,1060.2 1513.3,1049.4 1516.5,1043.4 1519.7,1067.2 1523.0,1064.0 1526.2,1071.2 1529.4,1063.2 1532.6,1077.6 1535.9,1071.1 1539.1,1071.7 1542.3,1063.1 1545.5,1066.6 1548.7,1061.5 1552.0,1065.2 1555.2,1058.2 1558.4,1068.2 1561.6,1067.3 1564.9,1064.5 1568.1,1060.1 1571.3,1057.2 1574.5,1054.7 1577.7,1062.9 1581.0,1069.7 1584.2,1076.3 1587.4,1071.6 1590.6,1072.6 1593.9,1066.3 1597.1,1058.6 1600.3,1060.1 1603.5,1067.1 1606.8,1072.6 1610.0,1074.6 1613.2,1072.7 1616.4,1072.5 1619.6,1075.3 1622.9,1081.8 1626.1,1074.0 1629.3,1077.3 1632.5,1072.8 1635.8,1073.2 1639.0,1075.3 1642.2,1077.9 1645.4,1075.2 1648.6,1081.7 1651.9,1075.9 1655.1,1078.7 1658.3,1076.4 1661.5,1085.2 1664.8,1077.7 1668.0,1085.1 1671.2,1078.4 1674.4,1080.1 1677.6,1079.9 1680.9,1083.1 1684.1,1082.6 1687.3,1084.5 1690.5,1082.7 1693.8,1086.0 1697.0,1081.4 1700.2,1083.4 1703.4,1079.6 1706.6,1075.8 1709.9,1070.6 1713.1,1077.0 1716.3,1082.0 1719.5,1087.0 1722.8,1088.3 1726.0,1089.9 1729.2,1088.0 1732.4,1087.2 1735.7,1085.2 1738.9,1087.2 1742.1,1088.4 1745.3,1091.1 1748.5,1087.2 1751.8,1089.4 1755.0,1088.1 1758.2,1087.9 1761.4,1088.2 1764.7,1089.9 1767.9,1090.0 1771.1,1091.7 1774.3,1090.9 1777.5,1092.5 1780.8,1090.1 1784.0,1094.0 1787.2,1089.7 1790.4,1092.9 1793.7,1090.5 1796.9,1090.0 1800.1,1091.1 1803.3,1093.1 1806.5,1090.2 1809.8,1094.9 1813.0,1092.8 1816.2,1094.7 1819.4,1092.3 1822.7,1092.6 1825.9,1090.5 1829.1,1092.1 1832.3,1091.1 1835.5,1092.9 1838.8,1090.7"/>
<polyline stroke="#0000ff" points="260.0,1097.0 270.0,1096.0 282.0,1098.0 294.0,1098.0 306.0,1098.6 316.0,1097.0 320.0,1096.0 330.0,1092.0 338.0,1084.0 342.0,1078.0 348.0,1062.0 354.0,1046.0 358.0,1036.0 362.0,1022.0 365.0,1006.0 368.0,992.0 372.0,982.0 378.0,966.0 380.0,950.0 382.0,938.0 384.0,920.0 386.0,900.0 388.0,880.0 390.0,862.0 393.0,860.0 398.0,830.0 403.0,800.0 408.0,774.0 414.0,752.0 417.0,720.0 420.0,690.0 430.0,662.0 436.0,642.0 443.0,612.0 446.0,600.0 450.0,566.4 459.0,527.4 470.0,587.6 473.4,492.4 478.0,540.0 492.0,440.4 496.0,480.0 501.0,436.0 508.0,511.6 512.0,464.0 524.0,434.4 534.0,480.0 547.0,520.6 558.0,461.4 566.0,531.6 572.0,504.0 582.0,494.4 590.0,540.0 592.0,572.6 600.0,556.0 604.0,524.4 610.0,580.0 618.0,546.4 624.0,611.6 632.0,600.0 640.0,596.4 650.0,646.6 652.0,607.4 660.0,640.0 664.0,659.6 668.0,620.4 674.0,650.0 680.0,641.4 686.0,695.6 697.0,648.4 704.0,696.6 712.0,670.0 720.0,684.0 730.0,698.6 740.0,688.0 749.0,746.6 760.0,724.0 772.0,743.6 782.0,730.0 794.0,797.6 808.0,760.0 818.0,780.0 827.0,733.4 832.0,800.0 840.0,833.6 850.0,810.0 862.0,840.0 874.0,820.0 884.0,848.0 896.0,832.0 908.0,848.0 920.0,850.0 932.0,844.0 942.0,856.0 950.0,867.6 960.0,856.0 970.0,870.0 980.0,868.0 990.0,893.6 1000.0,880.0 1008.0,891.6 1011.0,875.4 1020.0,888.0 1030.0,884.0 1040.0,904.0 1052.0,913.6 1064.0,900.0 1078.0,908.0 1088.0,920.0 1100.0,932.0 1110.0,943.6 1120.0,932.0 1132.0,938.6 1139.0,894.4 1146.0,940.0 1156.0,944.0 1164.0,952.0 1172.0,960.6 1180.0,950.0 1186.0,918.4 1190.0,965.6 1200.0,956.0 1210.0,968.0 1220.0,974.6 1230.0,968.0 1242.0,987.6 1252.0,980.0 1262.0,993.6 1272.0,984.0 1284.0,963.4 1292.0,990.0 1300.0,1008.0 1312.0,1012.0 1320.0,1015.6 1328.0,976.4 1337.0,1000.0 1348.0,1016.0 1360.0,1020.0 1368.0,989.4 1376.0,1024.0 1385.0,1035.6 1396.0,1030.0 1408.0,1032.0 1415.0,1020.4 1423.0,1018.4 1434.0,1055.6 1444.0,1056.0 1451.0,1073.6 1458.0,1060.0 1464.0,1032.4 1466.0,1065.6 1476.0,1060.0 1487.0,1035.4 1496.0,1064.0 1507.0,1071.6 1516.0,1040.4 1522.0,1083.6 1528.0,1072.0 1533.0,1084.6 1542.0,1068.0 1552.0,1069.6 1562.0,1068.0 1574.0,1054.4 1584.0,1077.6 1592.0,1072.0 1598.0,1056.4 1608.0,1076.0 1616.0,1072.0 1624.0,1083.6 1634.0,1072.0 1644.0,1080.0 1651.0,1082.6 1658.0,1080.0 1665.0,1093.6 1672.0,1080.0 1685.0,1085.6 1698.0,1087.6 1710.0,1071.4 1718.0,1086.0 1725.0,1090.6 1736.0,1086.0 1746.0,1091.6 1758.0,1088.0 1772.0,1092.0 1786.0,1095.6 1796.0,1090.0 1812.0,1097.6 1824.0,1092.0 1834.0,1094.0 1840.0,1092.0"/>
<polyline stroke="#00ffff" points="720.0,660.5 723.2,688.6 726.4,684.8 729.7,683.2 732.9,668.8 736.1,687.8 739.3,692.9 742.6,695.5 745.8,678.7 749.0,692.6 752.2,682.7 755.4,717.4 758.7,710.0 761.9,714.3 765.1,681.9 768.3,721.4 771.6,735.6 774.8,731.9 778.0,689.7 781.2,719.3 784.5,701.7 787.7,735.7 790.9,721.4 794.1,732.7 797.3,739.0 800.6,745.2 803.8,738.5 807.0,752.9 810.2,752.7 813.5,770.6 816.7,769.1 819.9,781.2 823.1,768.9 826.3,790.4 829.6,790.4 832.8,782.6 836.0,763.9 839.2,785.8 842.5,763.0 845.7,795.4 848.9,795.3 852.1,811.6 855.3,795.3 858.6,795.5 861.8,795.2 865.0,806.8 868.2,791.7 871.5,801.0 874.7,789.5 877.9,803.9 881.1,809.8 884.3,815.9 887.6,799.3 890.8,819.3 894.0,821.0 897.2,827.2 900.5,813.2 903.7,815.4 906.9,816.7 910.1,824.8 913.4,812.3 916.6,817.7 919.8,836.8 923.0,832.2 926.2,822.7 929.5,827.8 932.7,826.6 935.9,833.6 939.1,813.5 942.4,838.8 945.6,844.4 948.8,854.0 952.0,827.4 955.2,846.0 958.5,846.9 961.7,851.9 964.9,850.7 968.1,856.2 971.4,818.0 974.6,846.7 977.8,845.1 981.0,869.3 984.2,858.8 987.5,873.4 990.7,884.2 993.9,880.5 997.1,874.4 1000.4,872.3 1003.6,859.1 1006.8,857.5 1010.0,853.5 1013.2,861.7 1016.5,847.3 1019.7,859.2 1022.9,869.1 1026.1,879.3 1029.4,863.3 1032.6,877.2 1035.8,885.6 1039.0,885.4 1042.2,858.7 1045.5,879.8 1048.7,891.9 1051.9,888.6 1055.1,876.5 1058.4,890.3 1061.6,888.1 1064.8,902.6 1068.0,909.5 1071.3,909.2 1074.5,895.9 1077.7,894.6 1080.9,891.1 1084.1,893.9 1087.4,895.0 1090.6,898.4 1093.8,900.6 1097.0,894.1 1100.3,885.8 1103.5,886.2 1106.7,904.1 1109.9,915.7 1113.1,900.4 1116.4,911.2 1119.6,921.4 1122.8,928.2 1126.0,929.4 1129.3,931.9 1132.5,924.0 1135.7,921.1 1138.9,904.6 1142.1,918.0 1145.4,921.7 1148.6,920.5 1151.8,918.3 1155.0,932.1 1158.3,921.8 1161.5,920.8 1164.7,927.8 1167.9,924.5 1171.2,922.5 1174.4,931.5 1177.6,920.5 1180.8,938.6 1184.0,953.5 1187.3,950.7 1190.5,941.1 1193.7,951.1 1196.9,955.0 1200.2,962.0 1203.4,952.2 1206.6,952.1 1209.8,947.1 1213.0,954.9 1216.3,962.8 1219.5,952.8 1222.7,941.8 1225.9,950.7 1229.2,961.0 1232.4,978.0 1235.6,955.0 1238.8,979.7 1242.0,978.7 1245.3,988.1 1248.5,965.0 1251.7,972.3 1254.9,967.8 1258.2,980.6 1261.4,970.8 1264.6,981.7 1267.8,980.1 1271.0,995.7 1274.3,993.5 1277.5,991.3 1280.7,984.1 1283.9,993.8 1287.2,1004.6 1290.4,999.4 1293.6,990.6 1296.8,989.9 1300.1,1000.0 1303.3,991.9 1306.5,985.3 1309.7,995.9 1312.9,997.3 1316.2,986.3 1319.4,982.3 1322.6,1005.7 1325.8,1005.7 1329.1,1012.3 1332.3,1011.9 1335.5,1018.2 1338.7,1025.8 1341.9,1021.9 1345.2,1009.3 1348.4,1014.8 1351.6,989.1 1354.8,1011.8 1358.1,1023.7 1361.3,1020.4 1364.5,1016.4 1367.7,1024.8 1370.9,1029.2 1374.2,1023.7 1377.4,1014.8 1380.6,1021.1 1383.8,1025.6 1387.1,1033.1 1390.3,1030.5 1393.5,1032.4 1396.7,1034.2 1399.9,1046.4 1403.2,1022.7 1406.4,1037.1 1409.6,1035.6 1412.8,1047.5 1416.1,1045.1 1419.3,1039.0 1422.5,1035.9 1425.7,1042.2 1429.0,1036.5 1432.2,1043.3 1435.4,1048.5 1438.6,1050.9 1441.8,1040.1 1445.1,1051.9 1448.3,1061.3 1451.5,1054.8 1454.7,1047.1 1458.0,1049.2 1461.2,1052.2 1464.4,1058.0 1467.6,1054.0 1470.8,1046.7 1474.1,1032.6 1477.3,1046.0 1480.5,1057.0 1483.7,1052.8 1487.0,1047.8 1490.2,1051.0 1493.4,1054.6 1496.6,1056.0 1499.8,1044.8 1503.1,1060.8 1506.3,1070.7 1509.5,1060.0 1512.7,1052.4 1516.0,1058.1 1519.2,1063.9 1522.4,1055.0 1525.6,1042.4 1528.8,1055.3 1532.1,1055.6 1535.3,1067.1 1538.5,1054.7 1541.7,1057.3 1545.0,1055.7 1548.2,1059.4 1551.4,1058.3 1554.6,1067.7 1557.8,1059.9 1561.1,1067.4 1564.3,1082.7 1567.5,1078.4 1570.7,1066.9 1574.0,1077.3 1577.2,1057.9 1580.4,1065.1 1583.6,1072.7 1586.9,1071.2 1590.1,1066.8 1593.3,1074.6 1596.5,1071.8 1599.7,1073.4 1603.0,1063.3 1606.2,1069.8 1609.4,1072.7 1612.6,1082.9 1615.9,1075.5 1619.1,1070.8 1622.3,1067.9 1625.5,1071.2 1628.7,1072.9 1632.0,1076.7 1635.2,1079.0 1638.4,1077.0 1641.6,1071.6 1644.9,1070.3 1648.1,1075.6 1651.3,1068.4 1654.5,1064.9 1657.7,1068.3 1661.0,1069.7 1664.2,1072.7 1667.4,1075.3 1670.6,1079.1 1673.9,1079.5 1677.1,1079.5 1680.3,1078.4 1683.5,1080.8 1686.8,1082.1 1690.0,1079.8 1693.2,1076.5 1696.4,1079.6 1699.6,1078.7 1702.9,1078.7 1706.1,1080.3 1709.3,1089.4 1712.5,1089.0 1715.8,1087.5 1719.0,1084.9 1722.2,1086.4 1725.4,1088.1 1728.6,1090.9 1731.9,1090.6 1735.1,1091.1 1738.3,1090.0 1741.5,1089.5 1744.8,1087.6 1748.0,1085.6 1751.2,1083.0 1754.4,1088.4 1757.6,1090.8 1760.9,1092.8 1764.1,1092.5 1767.3,1093.1 1770.5,1092.1 1773.8,1092.4 1777.0,1090.2 1780.2,1089.1 1783.4,1086.6 1786.6,1088.0 1789.9,1089.0 1793.1,1091.2 1796.3,1092.2 1799.5,1092.5 1802.8,1090.1 1806.0,1088.6 1809.2,1090.1 1812.4,1092.4 1815.7,1092.1 1818.9,1091.6 1822.1,1089.8 1825.3,1090.1 1828.5,1090.8 1831.8,1092.7 1835.0,1091.4 1838.2,1091.3"/>
<polyline stroke="#00ffff" points="260.0,1080.0 266.0,1099.0 272.0,1090.0 280.0,1098.0 290.0,1092.0 299.0,1099.6 306.0,1086.0 312.0,1092.0 318.0,1072.0 326.0,1065.0 333.0,1060.0 340.0,1046.0 345.0,1052.0 347.0,1030.0 348.0,1012.0 354.0,1016.0 358.0,1006.0 364.0,1000.0 366.0,985.0 367.0,972.0 369.0,965.0 370.0,950.0 370.0,937.0 376.0,936.0 377.5,912.0 377.3,899.0 381.0,900.0 383.0,881.0 384.5,862.0 384.0,860.0 388.0,820.0 393.0,790.0 398.0,744.0 402.4,738.0 405.0,720.0 410.0,684.0 415.0,650.0 418.0,624.0 435.0,636.0 436.0,600.0 438.0,552.0 447.6,520.0 453.6,496.0 458.0,490.0 458.0,490.0 462.0,450.0 466.4,379.4 470.0,430.0 476.0,478.6 480.0,430.0 484.4,410.0 490.0,422.0 494.0,382.0 499.0,368.4 504.0,402.0 508.0,403.2 514.0,350.8 520.0,390.0 524.0,421.6 527.0,368.0 531.0,411.6 537.0,362.0 540.0,403.0 543.0,365.0 548.0,390.0 553.4,346.4 554.6,392.0 560.0,430.0 562.0,444.2 567.0,398.8 572.0,452.6 575.0,428.4 578.0,470.0 583.0,478.6 592.0,422.4 598.0,470.0 604.0,511.6 610.0,455.4 611.0,509.6 619.0,504.0 626.0,528.0 632.0,538.0 638.0,540.0 640.0,561.6 648.0,552.0 654.0,549.4 659.0,580.0 662.0,588.6 668.0,580.0 670.0,564.4 676.0,610.0 680.0,626.6 682.0,581.4 690.0,618.0 694.0,583.4 698.0,635.6 704.0,604.0 708.0,670.6 714.0,640.0 720.0,660.0 724.0,694.6 732.0,661.4 738.0,698.6 744.0,672.0 750.0,649.4 754.0,700.0 756.0,723.2 762.0,680.0 766.0,671.4 770.0,730.0 774.0,743.6 778.0,680.0 784.0,679.4 786.0,716.0 790.0,724.0 795.0,696.4 798.0,750.6 804.0,730.0 809.0,722.4 810.0,750.6 816.0,760.0 818.0,779.6 822.0,760.0 828.0,800.6 834.0,760.0 840.0,742.4 846.0,780.0 852.0,811.6 858.0,780.0 866.0,809.6 871.0,768.4 880.0,813.6 888.0,785.4 896.0,832.6 900.0,812.0 906.0,803.4 908.0,832.6 917.0,792.4 920.0,840.0 927.0,820.0 932.0,826.0 939.0,798.4 944.0,840.0 950.0,856.6 953.0,811.4 957.0,851.6 961.0,832.4 968.0,864.6 969.0,794.4 976.0,844.0 983.0,844.4 991.0,885.6 1000.0,868.0 1007.6,833.4 1012.0,856.0 1018.0,842.4 1022.0,874.6 1026.0,848.4 1038.0,893.6 1043.0,850.4 1048.0,893.6 1058.0,868.8 1064.0,900.0 1070.0,913.6 1078.0,879.4 1086.0,893.6 1094.0,900.6 1104.0,868.4 1106.0,904.6 1117.0,894.4 1120.0,925.6 1130.0,931.6 1141.0,896.4 1146.0,923.6 1150.0,902.4 1154.0,934.6 1160.0,916.0 1166.0,930.6 1170.0,916.4 1180.0,920.4 1184.0,953.6 1188.0,934.4 1200.0,961.6 1208.0,938.4 1216.0,963.6 1224.0,935.4 1229.0,960.0 1234.0,940.4 1240.0,970.0 1245.0,989.6 1249.0,953.4 1258.0,973.6 1264.0,957.4 1272.0,1000.0 1280.0,976.0 1288.0,1007.6 1298.0,970.4 1300.0,1000.0 1306.0,980.4 1312.0,1004.0 1317.0,967.4 1324.0,1000.0 1330.0,1004.0 1340.0,1028.6 1352.0,983.4 1358.0,1023.6 1364.0,1012.0 1370.0,1031.6 1379.0,1007.4 1386.0,1033.6 1394.0,1024.4 1400.0,1045.6 1403.4,1013.4 1414.0,1050.6 1420.0,1034.0 1428.0,1032.4 1438.0,1053.6 1442.0,1031.4 1448.0,1061.6 1456.0,1044.0 1466.0,1059.6 1475.0,1026.4 1480.0,1057.6 1488.0,1046.0 1492.0,1053.6 1500.0,1042.4 1506.0,1071.6 1512.0,1048.4 1520.0,1065.6 1526.0,1035.4 1536.0,1068.6 1540.0,1046.0 1549.0,1060.0 1554.0,1056.0 1560.0,1052.4 1565.0,1087.6 1572.0,1060.0 1578.0,1057.4 1584.0,1073.6 1590.0,1066.4 1594.0,1075.6 1606.0,1057.4 1612.0,1083.6 1620.0,1066.0 1628.0,1072.0 1636.0,1079.6 1644.0,1068.0 1648.0,1075.6 1653.0,1063.4 1664.0,1071.6 1672.0,1079.6 1680.0,1078.0 1688.0,1082.6 1692.0,1075.4 1698.0,1080.0 1704.0,1074.4 1710.0,1090.6 1720.0,1084.0 1728.0,1090.0 1736.0,1090.6 1744.0,1088.0 1751.0,1082.4 1756.0,1090.0 1762.0,1092.6 1774.0,1091.6 1784.0,1086.0 1792.0,1090.0 1798.0,1092.6 1806.0,1088.0 1814.0,1092.6 1824.0,1089.0 1832.0,1092.0 1840.0,1090.0"/>
<polyline stroke="#ff00ff" points="800.0,537.1 803.2,537.4 806.4,541.7 809.7,539.8 812.9,544.4 816.1,570.6 819.3,524.7 822.6,564.8 825.8,584.2 829.0,585.6 832.2,580.7 835.4,574.9 838.7,576.3 841.9,593.5 845.1,576.8 848.3,590.0 851.6,599.4 854.8,609.0 858.0,564.3 861.2,579.6 864.5,584.6 867.7,599.3 870.9,574.2 874.1,610.4 877.3,605.5 880.6,614.1 883.8,608.7 887.0,617.0 890.2,627.9 893.5,627.5 896.7,618.0 899.9,623.8 903.1,630.9 906.3,623.1 909.6,628.2 912.8,637.1 916.0,613.2 919.2,635.1 922.5,610.6 925.7,649.4 928.9,663.2 932.1,654.1 935.3,616.8 938.6,646.1 941.8,640.3 945.0,641.8 948.2,632.0 951.5,656.0 954.7,638.9 957.9,651.0 961.1,665.9 964.3,666.9 967.6,657.1 970.8,662.3 974.0,664.0 977.2,677.7 980.5,660.6 983.7,679.9 986.9,689.6 990.1,686.9 993.4,656.7 996.6,688.8 999.8,698.8 1003.0,685.4 1006.2,666.6 1009.5,685.8 1012.7,698.2 1015.9,688.1 1019.1,664.0 1022.4,693.9 1025.6,691.7 1028.8,698.4 1032.0,685.7 1035.2,689.4 1038.5,699.3 1041.7,696.9 1044.9,688.7 1048.1,696.2 1051.4,701.8 1054.6,708.4 1057.8,706.2 1061.0,708.7 1064.2,717.7 1067.5,734.0 1070.7,711.7 1073.9,742.4 1077.1,759.2 1080.4,749.4 1083.6,728.7 1086.8,754.9 1090.0,768.9 1093.2,759.2 1096.5,733.6 1099.7,753.6 1102.9,756.1 1106.1,751.5 1109.4,728.0 1112.6,748.2 1115.8,755.3 1119.0,770.1 1122.2,755.8 1125.5,755.6 1128.7,743.5 1131.9,783.6 1135.1,779.3 1138.4,783.7 1141.6,745.8 1144.8,782.5 1148.0,799.9 1151.3,802.5 1154.5,804.1 1157.7,806.5 1160.9,797.3 1164.1,792.3 1167.4,770.0 1170.6,802.5 1173.8,792.0 1177.0,811.1 1180.3,818.5 1183.5,824.4 1186.7,809.6 1189.9,817.1 1193.1,799.5 1196.4,816.8 1199.6,821.8 1202.8,834.1 1206.0,826.8 1209.3,823.7 1212.5,805.5 1215.7,824.9 1218.9,818.6 1222.1,835.9 1225.4,816.0 1228.6,834.2 1231.8,850.8 1235.0,858.1 1238.3,844.3 1241.5,857.8 1244.7,857.8 1247.9,875.0 1251.2,862.0 1254.4,877.9 1257.6,866.0 1260.8,878.4 1264.0,879.8 1267.3,885.8 1270.5,851.4 1273.7,873.1 1276.9,863.3 1280.2,869.6 1283.4,874.5 1286.6,882.7 1289.8,866.4 1293.0,884.2 1296.3,873.5 1299.5,891.3 1302.7,903.3 1305.9,898.2 1309.2,890.2 1312.4,891.6 1315.6,883.2 1318.8,898.5 1322.0,886.5 1325.3,912.1 1328.5,919.2 1331.7,926.9 1334.9,911.2 1338.2,918.1 1341.4,912.0 1344.6,921.9 1347.8,930.4 1351.0,926.9 1354.3,921.5 1357.5,930.5 1360.7,933.2 1363.9,930.1 1367.2,925.7 1370.4,942.0 1373.6,930.3 1376.8,946.0 1380.1,942.6 1383.3,963.5 1386.5,959.3 1389.7,955.2 1392.9,955.5 1396.2,960.9 1399.4,948.1 1402.6,956.7 1405.8,968.4 1409.1,965.6 1412.3,960.6 1415.5,975.1 1418.7,974.5 1421.9,974.6 1425.2,965.3 1428.4,975.7 1431.6,989.5 1434.8,985.4 1438.1,972.2 1441.3,988.3 1444.5,1000.2 1447.7,990.8 1450.9,972.2 1454.2,990.0 1457.4,987.2 1460.6,997.1 1463.8,990.6 1467.1,985.7 1470.3,981.7 1473.5,986.5 1476.7,992.4 1479.9,1003.2 1483.2,995.6 1486.4,1009.7 1489.6,1013.7 1492.8,1020.6 1496.1,1022.0 1499.3,1019.4 1502.5,1009.6 1505.7,1006.1 1509.0,1005.8 1512.2,1014.2 1515.4,1003.3 1518.6,1009.4 1521.8,1018.0 1525.1,1016.9 1528.3,1015.1 1531.5,1009.2 1534.7,999.9 1538.0,1015.2 1541.2,1004.1 1544.4,1015.0 1547.6,1014.3 1550.8,1031.5 1554.1,1022.2 1557.3,1020.3 1560.5,1019.3 1563.7,1025.2 1567.0,1026.7 1570.2,1030.8 1573.4,1021.7 1576.6,1033.4 1579.8,1040.0 1583.1,1043.9 1586.3,1034.5 1589.5,1029.5 1592.7,1021.6 1596.0,1030.2 1599.2,1042.0 1602.4,1030.3 1605.6,1031.5 1608.8,1038.4 1612.1,1045.9 1615.3,1047.4 1618.5,1040.2 1621.7,1045.7 1625.0,1057.7 1628.2,1055.7 1631.4,1047.2 1634.6,1052.9 1637.8,1058.0 1641.1,1065.9 1644.3,1045.7 1647.5,1048.9 1650.7,1047.2 1654.0,1050.0 1657.2,1046.7 1660.4,1051.8 1663.6,1046.2 1666.9,1061.2 1670.1,1062.5 1673.3,1066.6 1676.5,1069.8 1679.7,1073.9 1683.0,1059.2 1686.2,1062.5 1689.4,1058.6 1692.6,1063.1 1695.9,1062.4 1699.1,1062.0 1702.3,1055.3 1705.5,1051.3 1708.7,1050.2 1712.0,1062.5 1715.2,1058.1 1718.4,1068.1 1721.6,1069.6 1724.9,1077.0 1728.1,1083.4 1731.3,1071.6 1734.5,1070.1 1737.7,1081.9 1741.0,1074.5 1744.2,1070.8 1747.4,1059.9 1750.6,1073.3 1753.9,1067.4 1757.1,1068.5 1760.3,1067.8 1763.5,1083.1 1766.8,1076.0 1770.0,1074.2 1773.2,1058.1 1776.4,1070.8 1779.6,1082.1 1782.9,1076.5 1786.1,1067.4 1789.3,1072.7 1792.5,1071.5 1795.8,1079.0 1799.0,1073.1 1802.2,1070.6 1805.4,1062.2 1808.6,1071.2 1811.9,1083.0 1815.1,1080.9 1818.3,1077.0 1821.5,1074.0 1824.8,1070.2 1828.0,1072.4 1831.2,1073.1 1834.4,1085.1 1837.6,1080.8"/>
<polyline stroke="#ff00ff" points="260.0,1092.0 265.0,1091.0 272.0,1088.0 278.0,1095.0 286.0,1090.0 292.0,1098.0 299.0,1084.0 304.0,1098.0 308.0,1084.0 314.0,1097.0 318.0,1081.0 324.0,1092.0 327.5,1102.4 330.7,1065.3 333.9,1093.1 337.2,1048.0 340.4,1074.2 343.6,1027.9 346.8,1048.0 350.1,1015.4 353.3,1032.1 356.5,993.7 359.7,1018.5 362.9,972.3 366.2,990.5 369.4,959.9 372.6,965.0 375.8,913.9 379.1,918.9 382.3,881.2 386.4,860.0 388.4,818.0 393.6,822.0 396.4,800.0 397.2,784.0 401.4,742.0 407.6,744.0 408.4,736.0 413.6,690.0 416.4,680.0 418.4,652.0 423.6,650.0 425.0,640.0 426.8,630.0 430.4,600.0 433.6,566.0 436.8,574.0 439.2,540.0 440.4,530.0 443.6,512.0 443.2,496.0 443.6,442.4 454.0,470.0 459.0,476.6 459.4,419.0 466.0,410.0 466.4,388.4 472.4,382.0 473.2,365.0 479.0,393.6 484.4,360.0 486.4,305.6 492.0,375.2 494.8,268.4 499.0,354.0 502.0,322.0 511.4,253.4 514.4,276.0 518.0,233.4 528.0,246.4 527.4,311.0 531.0,270.0 533.6,320.0 537.0,251.4 540.0,309.6 545.0,267.0 547.0,311.6 554.0,270.4 560.0,299.2 569.4,266.4 576.0,327.2 582.0,322.0 588.6,257.8 591.0,333.2 598.0,308.4 601.4,361.6 607.0,337.4 612.0,375.2 618.0,331.8 621.4,405.2 631.0,372.0 634.0,404.6 637.0,376.0 646.0,424.6 650.0,387.8 656.0,431.2 660.0,390.0 664.4,427.6 666.4,385.4 675.0,394.4 682.0,492.6 690.0,460.0 694.0,476.0 698.0,447.4 705.0,500.6 708.0,431.4 714.4,450.0 721.0,426.4 723.0,494.4 730.0,482.0 740.0,508.0 747.0,526.0 752.4,544.6 756.6,496.4 762.0,532.0 767.0,536.0 773.0,540.0 778.0,603.2 785.0,518.4 789.0,540.0 794.0,548.0 799.0,540.0 804.0,525.4 806.0,542.0 814.0,535.2 821.0,512.4 826.0,587.2 832.0,582.0 837.0,546.4 840.0,596.6 848.0,553.4 849.0,592.0 856.0,611.6 859.0,523.4 866.0,600.0 871.0,566.4 874.0,609.6 880.0,602.0 888.0,611.0 891.0,633.6 897.0,616.4 904.0,632.6 906.0,618.4 914.0,639.6 916.0,608.0 923.0,601.4 930.0,674.6 936.6,592.4 943.0,650.0 948.0,627.4 952.0,650.0 956.0,624.4 962.0,672.6 972.0,644.4 976.0,667.6 980.0,655.0 986.0,694.6 994.0,644.4 998.0,708.0 1008.0,655.4 1014.0,710.0 1018.0,655.4 1028.0,700.6 1033.0,681.4 1040.0,704.0 1044.0,683.4 1054.0,708.0 1071.0,699.4 1077.0,759.6 1084.0,719.0 1091.0,776.6 1097.0,718.4 1102.0,754.0 1111.0,711.4 1115.0,751.0 1120.0,773.6 1126.4,711.4 1133.0,796.6 1142.4,720.4 1148.0,799.6 1159.0,806.6 1168.6,759.4 1179.0,816.0 1184.0,824.6 1191.0,785.4 1197.0,812.0 1204.0,837.6 1210.0,805.0 1216.0,800.4 1218.0,818.6 1227.0,798.4 1232.0,852.6 1240.0,833.4 1248.0,874.6 1252.4,856.0 1256.0,876.6 1261.0,833.4 1265.6,903.2 1272.0,833.4 1278.0,862.0 1287.0,882.6 1291.0,848.4 1303.0,904.6 1315.0,874.4 1324.0,872.4 1327.0,916.0 1333.0,928.6 1336.0,896.4 1348.0,930.6 1355.0,920.4 1359.0,935.2 1368.0,924.4 1378.0,929.0 1384.0,967.6 1390.0,947.0 1396.0,961.0 1403.4,929.4 1405.0,969.6 1414.0,955.0 1416.0,980.6 1426.0,957.4 1432.0,991.6 1437.0,963.4 1445.6,1005.2 1452.4,955.4 1460.0,997.6 1470.0,979.4 1478.0,993.6 1485.0,981.4 1490.0,1016.0 1495.0,1022.6 1500.0,1018.0 1506.0,996.4 1512.0,1014.0 1517.0,996.4 1520.0,1018.6 1530.0,1014.0 1536.0,991.4 1546.0,1003.0 1552.0,1037.6 1556.0,1007.4 1566.0,1028.6 1572.0,1016.4 1582.0,1046.0 1593.0,1016.4 1600.0,1045.0 1602.0,1020.4 1612.0,1045.6 1620.0,1037.4 1626.0,1061.6 1632.0,1043.0 1641.0,1065.6 1645.0,1040.0 1653.0,1050.0 1665.0,1039.8 1668.0,1060.0 1681.0,1074.6 1684.0,1047.0 1692.0,1060.0 1698.0,1063.2 1707.0,1046.4 1718.0,1060.0 1728.0,1083.6 1732.0,1061.4 1739.0,1085.2 1745.0,1052.4 1752.0,1070.0 1759.0,1059.4 1764.0,1084.6 1774.0,1052.4 1780.0,1083.6 1788.0,1061.4 1796.0,1078.6 1806.0,1059.4 1812.0,1083.2 1821.0,1074.0 1829.0,1064.0 1834.0,1084.6 1840.0,1078.0"/>
</g>
<g stroke-width="12.8" stroke-linecap="round">
<line x1="1296.3" y1="141.2" x2="1508.8" y2="141.2" stroke="#000000"/>
<line x1="1296.3" y1="259.6" x2="1508.8" y2="259.6" stroke="#ff0000"/>
<line x1="1296.3" y1="378.0" x2="1508.8" y2="378.0" stroke="#00ff00"/>
<line x1="1296.3" y1="496.6" x2="1508.8" y2="496.6" stroke="#0000ff"/>
<line x1="1296.3" y1="614.9" x2="1508.8" y2="614.9" stroke="#00ffff"/>
<line x1="1296.3" y1="733.3" x2="1508.8" y2="733.3" stroke="#ff00ff"/>
</g>
<filter id="crisp" x="0" y="0" width="1930" height="1460" filterUnits="userSpaceOnUse" color-interpolation-filters="sRGB"><feComponentTransfer><feFuncA type="discrete" tableValues="0 0 0 0 0 1"/></feComponentTransfer></filter>
<g filter="url(#crisp)" font-family="'Liberation Sans', Arial, sans-serif" fill="#000">
<text transform="translate(1671.0 170.5) scale(0.99 1.035)" font-size="84.5" text-anchor="end">80</text>
<text x="1693.3" y="123.9" font-size="52">o</text>
<text transform="translate(1720.0 170.3) scale(1.0 1.055)" font-size="84.5">C</text>
<text transform="translate(1671.0 288.9) scale(0.99 1.035)" font-size="84.5" text-anchor="end">90</text>
<text x="1693.3" y="242.3" font-size="52">o</text>
<text transform="translate(1720.0 288.7) scale(1.0 1.055)" font-size="84.5">C</text>
<text transform="translate(1671.0 407.3) scale(0.99 1.035)" font-size="84.5" text-anchor="end">100</text>
<text x="1693.3" y="360.7" font-size="52">o</text>
<text transform="translate(1720.0 407.1) scale(1.0 1.055)" font-size="84.5">C</text>
<text transform="translate(1671.0 525.9) scale(0.99 1.035)" font-size="84.5" text-anchor="end">120</text>
<text x="1693.3" y="479.3" font-size="52">o</text>
<text transform="translate(1720.0 525.7) scale(1.0 1.055)" font-size="84.5">C</text>
<text transform="translate(1671.0 644.2) scale(0.99 1.035)" font-size="84.5" text-anchor="end">150</text>
<text x="1693.3" y="597.6" font-size="52">o</text>
<text transform="translate(1720.0 644.0) scale(1.0 1.055)" font-size="84.5">C</text>
<text transform="translate(1671.0 762.6) scale(0.99 1.035)" font-size="84.5" text-anchor="end">200</text>
<text x="1693.3" y="716.0" font-size="52">o</text>
<text transform="translate(1720.0 762.4) scale(1.0 1.055)" font-size="84.5">C</text>
<text transform="translate(549.8 1289.2) scale(1.0 1.05)" font-size="94" text-anchor="middle">500</text>
<text transform="translate(872.1 1289.2) scale(1.0 1.05)" font-size="94" text-anchor="middle">550</text>
<text transform="translate(1194.4 1289.2) scale(1.0 1.05)" font-size="94" text-anchor="middle">600</text>
<text transform="translate(1516.6 1289.2) scale(1.0 1.05)" font-size="94" text-anchor="middle">650</text>
<text transform="translate(1838.9 1289.2) scale(1.0 1.05)" font-size="94" text-anchor="middle">700</text>
<text x="1050" y="1409.2" font-size="126" text-anchor="middle">Wavelength ( nm )</text>
<text transform="translate(124.6 607.3) rotate(-90)" font-size="126.3" text-anchor="middle">Intensity ( a. u. )</text>
</g>
</svg>
</body></html>
